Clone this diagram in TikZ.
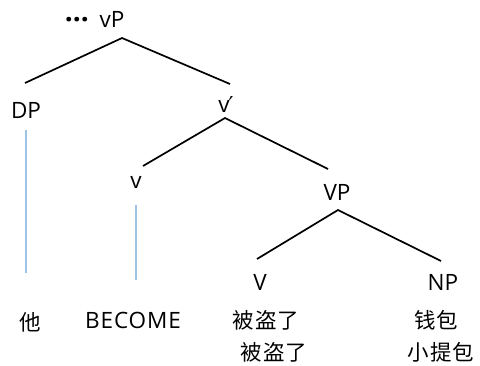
\documentclass[tikz,border=0pt]{standalone}
\usepackage{fontspec}
\setmainfont{Open Sans}
\newfontfamily\cjk{Noto Sans CJK SC}
\newfontfamily\dejavu{DejaVu Sans}
\definecolor{leafblue}{HTML}{9DC3E6}
\begin{document}
\begin{tikzpicture}[x=1pt,y=-1pt,
  lab/.style={inner sep=0pt,anchor=base,font=\fontsize{22.5}{26}\selectfont},
  hz/.style={inner sep=0pt,anchor=center,font=\cjk\fontsize{21.5}{24}\selectfont},
  branch/.style={line width=1.7pt,black},
  leaf/.style={line width=1.3pt,leafblue}]
\useasboundingbox (0,0) rectangle (480,365);
% labels
\node[lab] (vP) at (112,27) {vP};
\node[lab,anchor=base east,font=\fontsize{28}{30}\selectfont] (dots) at (89,29) {\textbf{···}};
\node[lab] (DP) at (26,118) {DP};
\node[lab] (vbar) at (226,112) {v\kern-1pt{\dejavu\fontsize{22}{24}\selectfont ′}};
\node[lab] (v) at (136,188) {v};
\node[lab] (VP) at (337,200) {VP};
\node[lab] (V) at (260,290) {V};
\node[lab] (NP) at (443,290) {NP};
\node[hz] (ta) at (30,322) {他};
\node[lab,font=\addfontfeatures{LetterSpace=4}\fontsize{22.5}{26}\selectfont] (BECOME) at (133,328) {BECOME};
\node[hz] (bdl1) at (266,320) {被\kern1pt 盗\kern1pt 了};
\node[hz] (bdl2) at (274,352) {被\kern1pt 盗\kern1pt 了};
\node[hz] (qb) at (436,320) {钱\kern1pt 包};
\node[hz] (xtb) at (441,352) {小\kern1pt 提\kern1pt 包};
% branch points
\coordinate (vPt) at (122,38);
\coordinate (DPt) at (25,83);
\coordinate (vbarT) at (230,84);
\coordinate (vbarB) at (225,118);
\coordinate (vT) at (143,166);
\coordinate (VPT) at (328,169);
\coordinate (VPB) at (338,210);
\coordinate (VT) at (257,259);
\coordinate (NPT) at (441,261);
\coordinate (DPb) at (26,130);
\coordinate (taT) at (26,273);
\coordinate (vb) at (136,205);
\coordinate (BT) at (136,280);
% branches
\draw[branch] (DPt) -- (vPt) -- (vbarT);
\draw[branch] (vT) -- (vbarB) -- (VPT);
\draw[branch] (VT) -- (VPB) -- (NPT);
\draw[leaf] (DPb) -- (taT);
\draw[leaf] (vb) -- (BT);
\end{tikzpicture}
\end{document}
